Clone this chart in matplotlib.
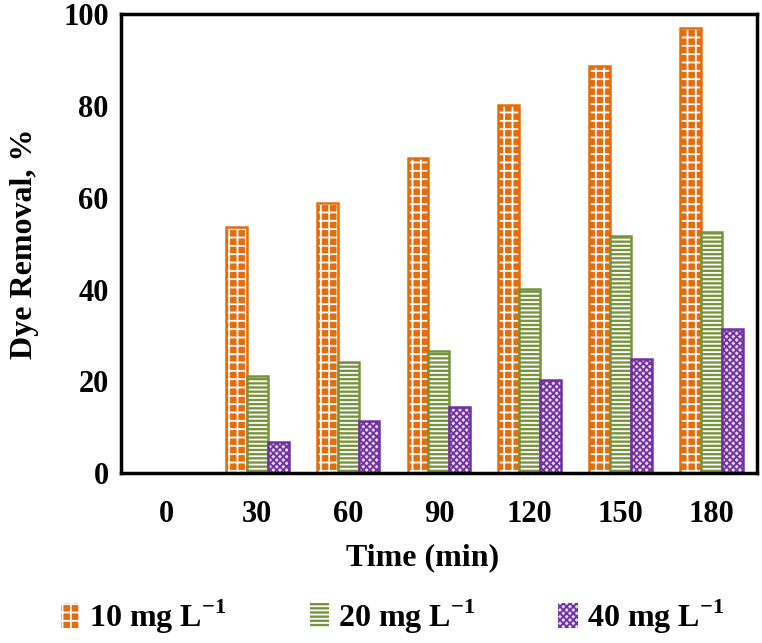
import numpy as np
import matplotlib
matplotlib.use('Agg')
from matplotlib import pyplot as plt

# time in minutes and dye removal (%) at each starting concentration
times = ['0', '30', '60', '90', '120', '150', '180']
removal_10 = [0, 53.7, 58.9, 68.7, 80.2, 88.7, 97.0]
removal_20 = [0, 21.1, 24.3, 26.7, 40.1, 51.7, 52.6]
removal_40 = [0, 6.8, 11.4, 14.5, 20.3, 24.9, 31.4]
series_labels = ['10 mg L$^{\\mathbf{-1}}$', '20 mg L$^{\\mathbf{-1}}$', '40 mg L$^{\\mathbf{-1}}$']

plt.rcParams['font.family'] = ['Liberation Serif', 'DejaVu Serif']
plt.rcParams['font.weight'] = 'bold'
plt.rcParams['mathtext.fontset'] = 'custom'
plt.rcParams['mathtext.rm'] = 'Liberation Serif:bold'
plt.rcParams['mathtext.bf'] = 'Liberation Serif:bold'
plt.rcParams['hatch.linewidth'] = 1.3

fig = plt.figure(figsize=(7.62, 6.43), dpi=100)
ax = fig.add_axes([0.159, 0.264, 0.834, 0.714])

x = np.arange(len(times))
w = 0.23

# (face, hatch colour, hatch, outline)
styles = [
	('#E46C0A', 'white', '++', '#E46C0A'),
	('#77933C', 'white', '----', '#77933C'),
	('#E4D8F2', '#7030A0', 'xxxxx', '#7030A0'),
]

handles = []
for i, vals in enumerate([removal_10, removal_20, removal_40]):
	face, hcol, hatch, edge = styles[i]
	pos = x + (i - 1) * w
	ax.bar(pos, vals, w, color=face, edgecolor=hcol, hatch=hatch, linewidth=0)
	ax.bar(pos, vals, w, fill=False, edgecolor=edge, linewidth=1.8)
	h = plt.Rectangle((0, 0), 1, 1, facecolor=face, edgecolor=hcol, hatch=hatch, linewidth=0)
	handles.append(h)

ax.set_xlim(-0.5, 6.5)
ax.set_ylim(0, 100)
ax.set_yticks([0, 20, 40, 60, 80, 100])
ax.set_xticks(x)
ax.set_xticklabels(times)
ax.tick_params(axis='both', length=0, labelsize=22)
ax.tick_params(axis='x', pad=19)
ax.tick_params(axis='y', pad=9)
for s in ax.spines.values():
	s.set_linewidth(2.5)
	s.set_color('black')

ax.set_xlabel('Time (min)', fontsize=23, fontweight='bold')
ax.xaxis.set_label_coords(0.475, -0.153)
ax.set_ylabel('Dye Removal, %', fontsize=23, fontweight='bold')
ax.yaxis.set_label_coords(-0.13, 0.5)

fig.legend(handles, series_labels, loc='center', bbox_to_anchor=(0.515, 0.041), ncol=3,
	frameon=False, fontsize=23, handlelength=0.6, handleheight=0.8, handletextpad=0.3,
	columnspacing=2.6)

fig.savefig('out.png', dpi=100)
